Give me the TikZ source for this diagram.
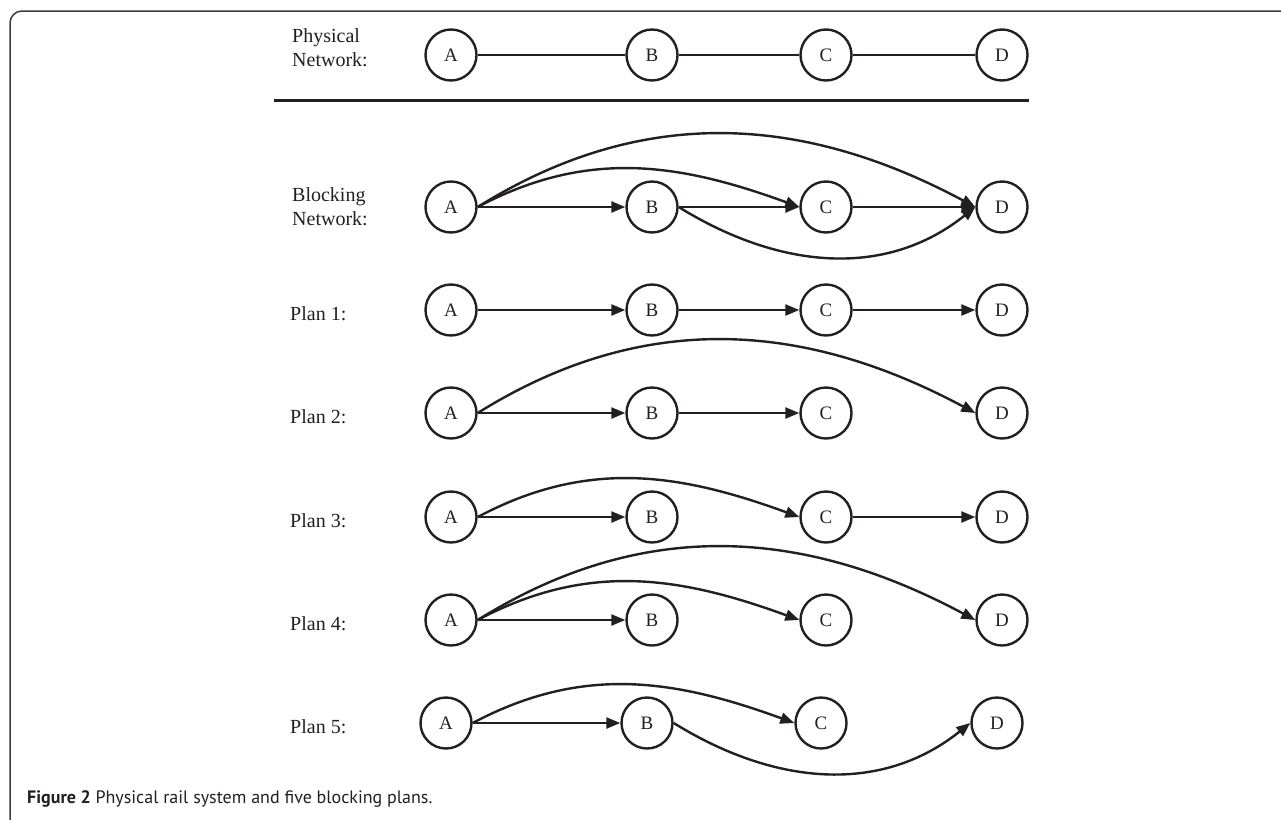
\documentclass[tikz,border=0pt]{standalone}
\usepackage{fontspec}
\setmainfont{Liberation Serif}
\newfontfamily\capfont{PT Sans}
\usetikzlibrary{arrows.meta}
\definecolor{ink}{HTML}{231F20}
\definecolor{framec}{HTML}{3A3A3A}
\begin{document}
\begin{tikzpicture}[x=1pt,y=-1pt,
  stn/.style={circle,draw=ink,line width=2.4pt,minimum size=51pt,inner sep=0pt,
    font=\fontsize{19}{22}\selectfont,text=ink},
  lbl/.style={anchor=west,inner sep=0pt,align=left,
    font=\fontsize{20}{24}\selectfont,text=ink},
  arr/.style={draw=ink,line width=2.4pt,-{Triangle[length=14pt,width=11pt]}},
  link/.style={draw=ink,line width=2pt},
  sep/.style={draw=ink,line width=3pt},
  frame/.style={draw=framec,line width=1.5pt,rounded corners=12pt},
]
\useasboundingbox (0,0) rectangle (1281,819);
% frame (top and left only)
\draw[frame] (10,830) -- (10,11) -- (1290,11);

% stations
\foreach \r/\y/\dx in {0/55/0,1/207/0,2/310/0,3/413/0,4/517/0,5/620/0,6/723/-5} {
  \node[stn] (A\r) at (451+\dx,\y) {A};
  \node[stn] (B\r) at (652+\dx,\y) {B};
  \node[stn] (C\r) at (826+\dx,\y) {C};
  \node[stn] (D\r) at (1002+\dx,\y) {D};
}

% labels
\node[lbl] (lphys) at (292,48) {Physical\\Network:};
\node[lbl] (lblock) at (292,207) {Blocking\\Network:};
\node[lbl] (lp1) at (290,314) {Plan 1:};
\node[lbl] (lp2) at (290,417) {Plan 2:};
\node[lbl] (lp3) at (290,521) {Plan 3:};
\node[lbl] (lp4) at (290,624) {Plan 4:};
\node[lbl] (lp5) at (290,727) {Plan 5:};

% physical network
\draw[link] (A0) -- (B0);
\draw[link] (B0) -- (C0);
\draw[link] (C0) -- (D0);
\coordinate (sepL) at (274,100);
\coordinate (sepR) at (1029,100);
\draw[sep] (sepL) -- (sepR);

% blocking network
\draw[arr] (A1) -- (B1);
\draw[arr] (B1) -- (C1);
\draw[arr] (C1) -- (D1);
\draw[arr] (A1.east) .. controls +(165,-103) and +(-172,-92) .. (D1.west);
\draw[arr] (A1.east) .. controls +(111,-59) and +(-118,-43) .. (C1.west);
\draw[arr] (B1.east) .. controls +(100,62) and +(-90,72) .. (D1.west);

% plan 1
\draw[arr] (A2) -- (B2);
\draw[arr] (B2) -- (C2);
\draw[arr] (C2) -- (D2);

% plan 2
\draw[arr] (A3) -- (B3);
\draw[arr] (B3) -- (C3);
\draw[arr] (A3.east) .. controls +(165,-103) and +(-172,-92) .. (D3.west);

% plan 3
\draw[arr] (A4) -- (B4);
\draw[arr] (A4.east) .. controls +(111,-59) and +(-118,-43) .. (C4.west);
\draw[arr] (C4) -- (D4);

% plan 4
\draw[arr] (A5) -- (B5);
\draw[arr] (A5.east) .. controls +(111,-59) and +(-118,-43) .. (C5.west);
\draw[arr] (A5.east) .. controls +(165,-103) and +(-172,-92) .. (D5.west);

% plan 5
\draw[arr] (A6) -- (B6);
\draw[arr] (A6.east) .. controls +(111,-59) and +(-118,-43) .. (C6.west);
\draw[arr] (B6.east) .. controls +(100,62) and +(-90,72) .. (D6.west);

% caption
\node[anchor=base west,inner sep=0pt,text=ink,font=\capfont\fontsize{18}{22}\selectfont] (cap) at (27,803)
  {\textbf{Figure 2} Physical rail system and five blocking plans.};
\end{tikzpicture}
\end{document}
